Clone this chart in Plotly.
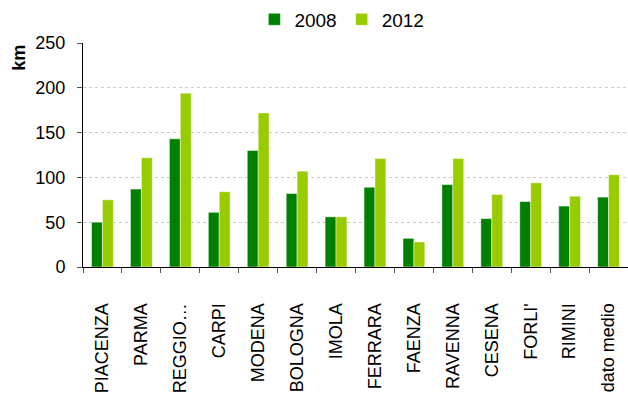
import plotly.graph_objects as go

categories = ["PIACENZA", "PARMA", "REGGIO…", "CARPI", "MODENA", "BOLOGNA", "IMOLA",
              "FERRARA", "FAENZA", "RAVENNA", "CESENA", "FORLI'", "RIMINI", "dato medio"]
km_2008 = [50, 87, 143, 61, 130, 82, 56, 89, 32, 92, 54, 73, 68, 78]
km_2012 = [75, 122, 194, 84, 172, 107, 56, 121, 28, 121, 81, 94, 79, 103]

FONT = "Liberation Sans, Arial, sans-serif"

fig = go.Figure()
fig.add_trace(go.Bar(name="2008", x=categories, y=km_2008,
                     marker=dict(color="#008000", line=dict(color="rgba(255,255,255,0.45)", width=1))))
fig.add_trace(go.Bar(name="2012", x=categories, y=km_2012,
                     marker=dict(color="#99CC00", line=dict(color="rgba(255,255,255,0.45)", width=1))))

fig.update_layout(
    width=628, height=394,
    margin=dict(l=83, r=0, t=43, b=127, autoexpand=False),
    plot_bgcolor="white", paper_bgcolor="white",
    barmode="group", bargap=0.44, bargroupgap=0,
    font=dict(family=FONT, size=18, color="black"),
    legend=dict(orientation="h", x=0.475, xanchor="center", y=1.105, yanchor="middle",
                font=dict(size=19), itemwidth=30, tracegroupgap=0,
                traceorder="normal"),
    xaxis=dict(showline=True, linecolor="black", linewidth=1, automargin=False,
               ticks="outside", tickson="boundaries", ticklen=5, tickcolor="#555",
               tickangle=-90, tickfont=dict(size=18), ticklabelstandoff=28),
    yaxis=dict(range=[0, 250], dtick=50, showline=True, linecolor="black", linewidth=1,
               automargin=False,
               ticks="outside", ticklen=5, tickcolor="#555",
               showgrid=True, gridcolor="#c8c8c8", griddash="dot", gridwidth=1,
               tickfont=dict(size=18), ticklabelstandoff=8, zeroline=False),
    annotations=[dict(text="<b>km</b>", xref="paper", yref="paper",
                      x=-0.119, y=0.935, xanchor="center", yanchor="middle",
                      textangle=-90, showarrow=False,
                      font=dict(size=18, family=FONT))],
)

fig.write_html("out.html")
